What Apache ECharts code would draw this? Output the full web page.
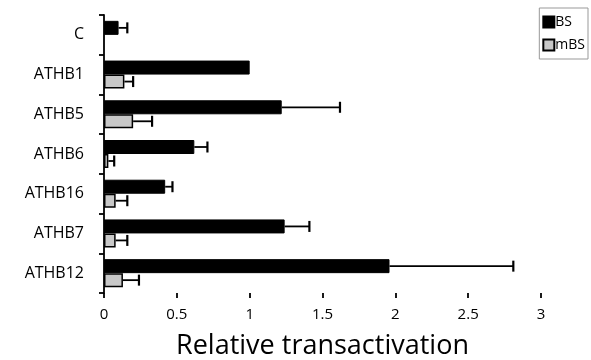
<!DOCTYPE html>
<html><head><meta charset="utf-8">
<script src="https://cdn.jsdelivr.net/npm/echarts@6/dist/echarts.min.js"></script>
<style>html,body{margin:0;padding:0;background:#fff}#c{width:591px;height:360px}</style>
</head><body><div id="c"></div>
<script>
var categories = ['C','ATHB1','ATHB5','ATHB6','ATHB16','ATHB7','ATHB12'];
var bsValues = [0.1, 1.0, 1.22, 0.62, 0.42, 1.24, 1.96];
var bsErrTop = [0.16, null, 1.62, 0.71, 0.47, 1.41, 2.81];
var mbsValues = [null, 0.14, 0.2, 0.03, 0.08, 0.08, 0.13];
var mbsErrTop = [null, 0.2, 0.33, 0.07, 0.16, 0.16, 0.24];
var xTicks = [0, 0.5, 1, 1.5, 2, 2.5, 3];

var BW = 14;
function errData(vals, tops){
  var d = [];
  for (var i=0;i<vals.length;i++){ if (vals[i]!=null && tops[i]!=null) d.push([i, vals[i], tops[i]]); }
  return d;
}
function errRender(offset){
  return function(params, api){
    var ci = api.value(0), v = api.value(1), t = api.value(2);
    var p0 = api.coord([v, ci]);
    var p1 = api.coord([t, ci]);
    var y = p0[1] + offset;
    return {type:'group', children:[
      {type:'line', shape:{x1:p0[0], y1:y, x2:p1[0], y2:y}, style:{stroke:'#000', lineWidth:1.8}},
      {type:'line', shape:{x1:p1[0], y1:y-5.5, x2:p1[0], y2:y+5.5}, style:{stroke:'#000', lineWidth:2.2}}
    ]};
  };
}
var chart = echarts.init(document.getElementById('c'));
chart.setOption({
  animation:false,
  textStyle:{fontFamily:'Open Sans'},
  grid:{left:104, right:50, top:15, bottom:67, containLabel:false, outerBoundsMode:'none'},
  legend:{
    right:3, top:8, orient:'vertical', icon:'rect', itemWidth:11, itemHeight:11, itemGap:9,
    borderColor:'#999', borderWidth:1, padding:[7,3,7,3],
    textStyle:{fontSize:14, color:'#000', padding:[0,0,0,-4]},
    data:[{name:'BS'},{name:'mBS'}]
  },
  xAxis:{
    type:'value', min:0, max:3, interval:0.5,
    name:'Relative transactivation', nameLocation:'middle', nameGap:40,
    nameTextStyle:{fontSize:27, color:'#000'},
    axisLine:{lineStyle:{color:'#000', width:1.8}},
    axisTick:{show:true, length:5, lineStyle:{color:'#000', width:1.8}},
    axisLabel:{fontSize:15, color:'#000', margin:14, formatter:function(v){return xTicks.indexOf(v)>=0?String(v):'';}},
    splitLine:{show:false}
  },
  yAxis:{
    type:'category', data:categories, inverse:true,
    axisLine:{lineStyle:{color:'#000', width:1.8}},
    axisTick:{show:true, length:5, lineStyle:{color:'#000', width:1.8}},
    axisLabel:{fontSize:16, color:'#000', margin:20}
  },
  series:[
    {name:'BS', type:'bar', data:bsValues, barWidth:BW, barGap:'0%',
     itemStyle:{color:'#000', borderColor:'#000', borderWidth:1}},
    {name:'mBS', type:'bar', data:mbsValues, barWidth:BW,
     itemStyle:{color:'#c8c8c8', borderColor:'#000', borderWidth:1.5}},
    {type:'custom', data:errData(bsValues, bsErrTop), renderItem:errRender(-BW/2), z:5,
     encode:{x:[1,2], y:0}},
    {type:'custom', data:errData(mbsValues, mbsErrTop), renderItem:errRender(BW/2), z:5,
     encode:{x:[1,2], y:0}}
  ]
});
</script></body></html>
